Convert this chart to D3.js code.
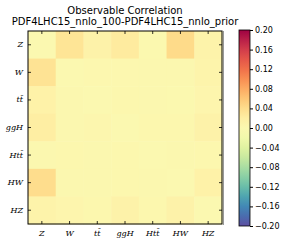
<!DOCTYPE html>
<html>
<head>
<meta charset="utf-8" />
<title></title>
<style>
html, body {
    padding: 0px;
    margin: 0px;
    background: #fff;
}
text { font-family: "DejaVu Sans", sans-serif; }
.lbl { font-family: "DejaVu Serif", serif; font-style: italic; font-size: 8px; }
</style>
</head>
<body>
<div id="chart"></div>
<script src="https://cdnjs.cloudflare.com/ajax/libs/d3/7.8.5/d3.min.js"></script>
<script>
!(function(){
    "use strict"

    var observables = ["Z", "W", "tt\u0304", "ggH", "Htt\u0304", "HW", "HZ"]

    // correlation differences, row by row (top to bottom)
    var values = [
        [0.000, 0.032, 0.014, 0.024, 0.002, 0.042, 0.012],
        [0.034, 0.000, 0.004, 0.004, 0.003, 0.003, 0.011],
        [0.015, 0.003, 0.000, 0.005, 0.003, 0.002, 0.008],
        [0.020, 0.003, 0.006, 0.000, 0.005, 0.005, 0.014],
        [0.003, 0.005, 0.003, 0.005, 0.000, 0.003, 0.005],
        [0.040, 0.003, 0.003, 0.005, 0.003, 0.000, 0.015],
        [0.012, 0.008, 0.005, 0.014, 0.005, 0.014, 0.000]
    ]

    var cbTicks = [0.20, 0.16, 0.12, 0.08, 0.04, 0.00, -0.04, -0.08, -0.12, -0.16, -0.20]

    var W = 285, H = 244
    var left = 28, right = 222, top = 31, bottom = 224

    var svg = d3.select("#chart").append("svg")
        .attr("width", W).attr("height", H)

    var color = d3.scaleSequential(function(t){ return d3.interpolateSpectral(1 - t) })
        .domain([-0.2, 0.2])

    var x = d3.scaleBand().domain(d3.range(observables.length)).range([left, right])
    var y = d3.scaleBand().domain(d3.range(observables.length)).range([top, bottom])

    //cells
    var cells = []
    values.forEach(function(row, i){
        row.forEach(function(v, j){ cells.push({r: i, c: j, v: v}) })
    })
    svg.append("g").selectAll("rect")
        .data(cells)
        .enter()
        .append("rect")
        .attr("x", function(d){ return x(d.c) })
        .attr("y", function(d){ return y(d.r) })
        .attr("width", x.bandwidth() + 0.5)
        .attr("height", y.bandwidth() + 0.5)
        .attr("fill", function(d){ return color(d.v) })

    //axes, ticks inward
    var fmt = function(i){ return observables[i] }
    var axB = svg.append("g").attr("transform", "translate(0," + bottom + ")")
        .call(d3.axisBottom(x).tickSizeInner(-3).tickSizeOuter(0).tickPadding(6).tickFormat(fmt))
    var axL = svg.append("g").attr("transform", "translate(" + left + ",0)")
        .call(d3.axisLeft(y).tickSizeInner(-3).tickSizeOuter(0).tickPadding(5).tickFormat(fmt))
    var axT = svg.append("g").attr("transform", "translate(0," + top + ")")
        .call(d3.axisTop(x).tickSizeInner(-3).tickSizeOuter(0).tickFormat(""))
    var axR = svg.append("g").attr("transform", "translate(" + right + ",0)")
        .call(d3.axisRight(y).tickSizeInner(-3).tickSizeOuter(0).tickFormat(""))
    ;[axB, axL, axT, axR].forEach(function(a){
        a.selectAll(".domain").remove()
        a.selectAll(".tick line").attr("stroke", "#000").attr("stroke-width", 0.8)
        a.selectAll("text").attr("class", "lbl").attr("fill", "#000")
    })

    svg.append("rect")
        .attr("x", left).attr("y", top)
        .attr("width", right - left).attr("height", bottom - top)
        .attr("fill", "none").attr("stroke", "#000").attr("stroke-width", 1)
    svg.append("line")
        .attr("x1", right + 1.5).attr("x2", right + 1.5)
        .attr("y1", top).attr("y2", bottom + 1)
        .attr("stroke", "#999").attr("stroke-width", 1)

    //title
    svg.append("text").attr("x", (left + right) / 2).attr("y", 14)
        .attr("text-anchor", "middle").attr("font-size", 10).text("Observable Correlation")
    svg.append("text").attr("x", (left + right) / 2).attr("y", 25)
        .attr("text-anchor", "middle").attr("font-size", 10).text("PDF4LHC15_nnlo_100-PDF4LHC15_nnlo_prior")

    //colorbar
    var cbX = 239, cbW = 11, cbTop = 30, cbBottom = 226
    var cy = d3.scaleLinear().domain([-0.2, 0.2]).range([cbBottom, cbTop])
    var grad = svg.append("defs").append("linearGradient")
        .attr("id", "cbgrad").attr("x1", 0).attr("y1", 1).attr("x2", 0).attr("y2", 0)
    d3.range(0, 1.0001, 0.05).forEach(function(t){
        grad.append("stop").attr("offset", t).attr("stop-color", color(-0.2 + 0.4 * t))
    })
    svg.append("rect")
        .attr("x", cbX).attr("y", cbTop).attr("width", cbW).attr("height", cbBottom - cbTop)
        .attr("fill", "url(#cbgrad)").attr("stroke", "#000").attr("stroke-width", 0.8)

    var cbAx = svg.append("g").attr("transform", "translate(" + (cbX + cbW) + ",0)")
        .call(d3.axisRight(cy).tickValues(cbTicks).tickSize(3).tickPadding(2)
            .tickFormat(function(d){ return d3.format(".2f")(d).replace("-", "\u2212") }))
    cbAx.select(".domain").remove()
    cbAx.selectAll("text").attr("font-size", 8).attr("font-family", "DejaVu Sans").attr("fill", "#000")
    cbAx.selectAll(".tick line").attr("stroke", "#000")

}());
</script>
</body>
</html>
